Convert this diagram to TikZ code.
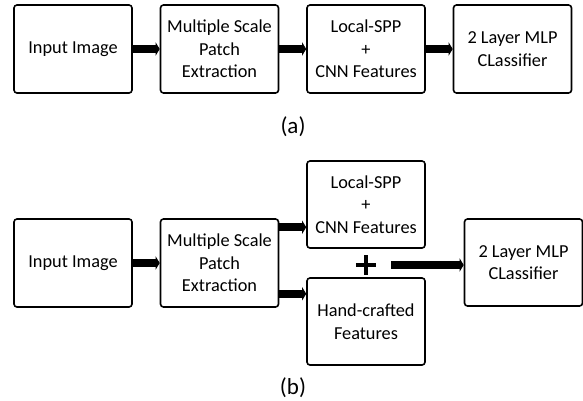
\documentclass[tikz,border=0pt]{standalone}
\usepackage{fontspec}
\setmainfont{Carlito}
\usetikzlibrary{arrows.meta,calc}
\begin{document}
\begin{tikzpicture}[x=1pt,y=-1pt,
  box/.style={draw,line width=1.6pt,rounded corners=3pt,minimum width=118pt,minimum height=88pt,
    align=center,inner sep=0pt,font=\fontsize{18.3}{22.5}\selectfont},
  arr/.style={line width=8.5pt,-{Triangle[length=4pt,width=13pt]}},
  lab/.style={font=\fontsize{23}{26}\selectfont}]
\useasboundingbox (0,0) rectangle (583,400);
% (a)
\node[box] (in1) at (73,49) {Input Image};
\node[box] (ms1) at (219.5,49) {Multiple Scale\\Patch\\Extraction};
\node[box] (ls1) at (366,49) {Local-SPP\\+\\CNN Features};
\node[box] (cl1) at (512.5,49) {2 Layer MLP\\CLassifier};
\draw[arr] (in1) -- (ms1);
\draw[arr] (ms1) -- (ls1);
\draw[arr] (ls1) -- (cl1);
\node[lab] (la) at (293,127) {(a)};
% (b)
\node[box] (in2) at (73,263) {Input Image};
\node[box] (ms2) at (219.5,263) {Multiple Scale\\Patch\\Extraction};
\node[box,minimum height=87pt] (ls2) at (366,204.5) {Local-SPP\\+\\CNN Features};
\node[box,minimum height=87pt] (hc2) at (366,321.5) {Hand-crafted\\Features};
\node[box,minimum height=87pt] (cl2) at (523.5,262.5) {2 Layer MLP\\CLassifier};
\draw[arr] (in2) -- (ms2);
\draw[arr] ([yshift=-9pt]ms2.north east) -- ([yshift=-9pt]ms2.north east -| ls2.west);
\draw[arr] ([yshift=14pt]ms2.south east) -- ([yshift=14pt]ms2.south east -| hc2.west);
\node[minimum width=20pt,minimum height=19pt,inner sep=0pt] (plus) at (366,265) {};
\draw[line width=3.2pt] (plus.west) -- (plus.east) (plus.north) -- (plus.south);
\draw[arr] ([xshift=15pt]plus.east) -- (plus.east -| cl2.west);
\node[lab] (lb) at (293,388) {(b)};
\end{tikzpicture}
\end{document}
